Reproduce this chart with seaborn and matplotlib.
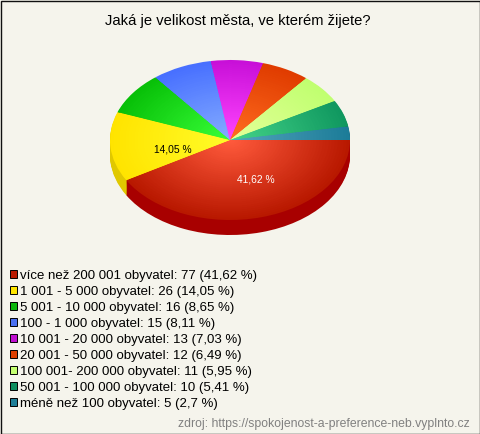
import matplotlib
matplotlib.use('Agg')
import matplotlib.pyplot as plt
import seaborn as sns
from matplotlib.patches import Rectangle

# data
kategorie = ['více než 200 001 obyvatel', '1 001 - 5 000 obyvatel', '5 001 - 10 000 obyvatel',
             '100 - 1 000 obyvatel', '10 001 - 20 000 obyvatel', '20 001 - 50 000 obyvatel',
             '100 001- 200 000 obyvatel', '50 001 - 100 000 obyvatel', 'méně než 100 obyvatel']
pocty = [77, 26, 16, 15, 13, 12, 11, 10, 5]
procenta = ['41,62', '14,05', '8,65', '8,11', '7,03', '6,49', '5,95', '5,41', '2,7']

legenda_barvy = ['#b91a00', '#ffe600', '#0db80d', '#4a70f0', '#c010d0', '#e04000', '#c4ff70', '#0f8f5f', '#1f7f98']
stred_barvy = ['#ff5a3c', '#fffc28', '#38ff38', '#84acff', '#ff44ff', '#ff6c20', '#e4ff98', '#44d488', '#54a4bc']
okraj_barvy = ['#b81800', '#ffe400', '#08c008', '#4870ff', '#c810d8', '#e03c00', '#c0ff70', '#109860', '#1c7c98']
bok_barvy = ['#a80000', '#e0c800', '#089008', '#3050c0', '#9008a0', '#b03000', '#90c050', '#087040', '#105c70']

POZADI = '#f5f4ec'

sns.set_theme(style='white')
plt.rcParams['font.family'] = ['Liberation Sans', 'DejaVu Sans']

fig = plt.figure(figsize=(4.8, 4.34), dpi=100, facecolor=POZADI)

# pie axes span x 110-350 and y 60-240 px, squashed into an ellipse
ax = fig.add_axes([110 / 480, (434 - 240) / 434, 240 / 480, 180 / 434])
hloubka = 15 / 80

# side of the pie: the same pie repeated downwards
for i in range(16, 0, -1):
    ax.pie(pocty, radius=1, center=(0, -hloubka * i / 16), colors=bok_barvy, startangle=0,
           counterclock=False, wedgeprops={'linewidth': 0})

# top of the pie: concentric pies for the radial shading
kroky = 40
prechody = [sns.blend_palette([o, s], kroky) for o, s in zip(okraj_barvy, stred_barvy)]
for k in range(kroky):
    ax.pie(pocty, radius=1 - k / kroky, colors=[p[k] for p in prechody], startangle=0,
           counterclock=False, wedgeprops={'linewidth': 0})

ax.set_aspect('auto')
ax.set_xlim(-1, 1)
ax.set_ylim(-1.25, 1)
ax.axis('off')

# overlay in pixel coordinates for the texts and legend
pop = fig.add_axes([0, 0, 1, 1], facecolor='none')
pop.set_xlim(0, 480)
pop.set_ylim(434, 0)
pop.axis('off')

pop.text(237.5, 20.5, 'Jaká je velikost města, ve kterém žijete?', fontsize=10.6, ha='center', va='center', color='black')
pop.text(255.5, 180, procenta[0] + ' %', fontsize=7.4, ha='center', va='center', color='white')
pop.text(173, 149, procenta[1] + ' %', fontsize=7.4, ha='center', va='center', color='black')

for i, (nazev, n, p, barva) in enumerate(zip(kategorie, pocty, procenta, legenda_barvy)):
    y = 274.5 + i * 16
    pop.add_patch(Rectangle((9.5, y - 4.5), 7.5, 7.5, facecolor=barva, edgecolor='black', linewidth=0.7))
    pop.text(20, y + 1.5, f'{nazev}: {n} ({p} %)', fontsize=9.55, ha='left', va='center', color='black')

pop.text(470, 423.5, 'zdroj: https://spokojenost-a-preference-neb.vyplnto.cz', fontsize=8.8,
         ha='right', va='center', color='#808080')

# dark frame of the picture
pop.add_patch(Rectangle((0.5, 0.5), 479, 433, facecolor='none', edgecolor='#101010', linewidth=1))

fig.savefig('out.png', dpi=100, facecolor=POZADI)
